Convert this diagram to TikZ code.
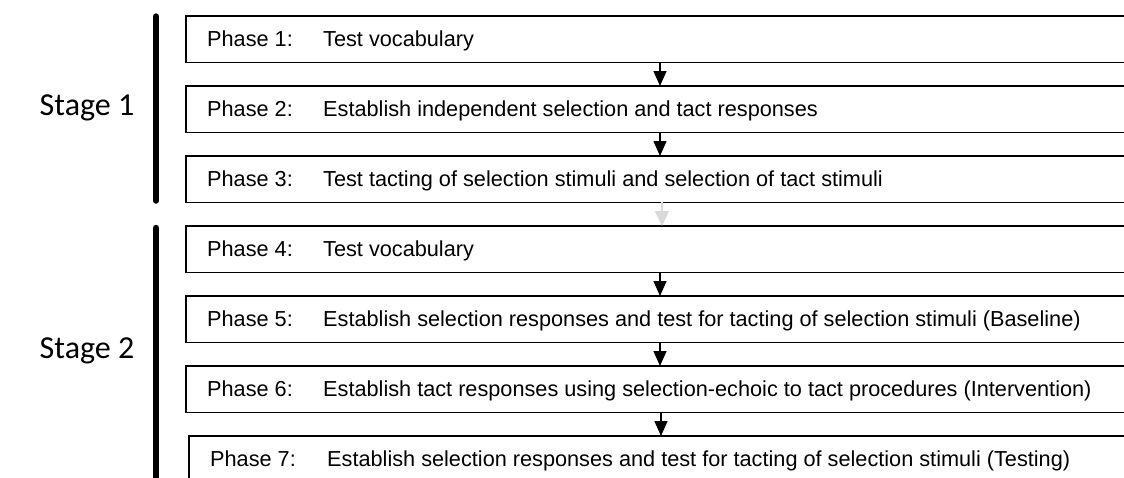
\documentclass[tikz,border=0pt]{standalone}
\usepackage{fontspec}
\setmainfont{Liberation Sans}
\newfontfamily\stagefont{Carlito}
\usetikzlibrary{arrows.meta}
\definecolor{lightarrow}{HTML}{D9D9D9}
\tikzset{
  phasebox/.style={minimum width=938pt, minimum height=46pt, anchor=north west, inner sep=0pt},
  boxline/.style={draw=black, line width=1.4pt},
  phaselabel/.style={anchor=base west, inner sep=0pt, font=\fontsize{21.7}{25}\selectfont},
  stagelabel/.style={inner sep=0pt, font=\stagefont\fontsize{32}{37}\selectfont},
  stagebar/.style={line width=6.5pt, line cap=round, black},
  flow/.style={line width=1.4pt, -{Triangle[width=13pt,length=15pt]}},
  flowgray/.style={line width=1.4pt, draw=lightarrow, -{Triangle[width=14pt,length=15pt]}, lightarrow}
}
\begin{document}
\begin{tikzpicture}[x=1pt,y=-1pt]
\useasboundingbox (0,0) rectangle (1124,477);
\coordinate (edge) at (1124,0);
% boxes (right side runs off the page)
\node[phasebox] (b1) at (186,16) {};
\node[phasebox] (b2) at (186,86) {};
\node[phasebox] (b3) at (186,156) {};
\node[phasebox] (b4) at (186,226) {};
\node[phasebox] (b5) at (186,296) {};
\node[phasebox] (b6) at (186,366) {};
\node[phasebox] (b7) at (189,436) {};
\foreach \b in {b1,b2,b3,b4,b5,b6,b7}
  \draw[boxline] (\b.north west -| edge) -- (\b.north west) -- (\b.south west) -- (\b.south west -| edge);
% texts
\node[phaselabel] (p1) at (207,46.5) {Phase 1:};
\node[phaselabel] (t1) at (323,46.5) {Test vocabulary};
\node[phaselabel] (p2) at (207,116.5) {Phase 2:};
\node[phaselabel] (t2) at (323,116.5) {Establish independent selection and tact responses};
\node[phaselabel] (p3) at (207,186.5) {Phase 3:};
\node[phaselabel] (t3) at (323,186.5) {Test tacting of selection stimuli and selection of tact stimuli};
\node[phaselabel] (p4) at (207,256.5) {Phase 4:};
\node[phaselabel] (t4) at (323,256.5) {Test vocabulary};
\node[phaselabel] (p5) at (207,326.5) {Phase 5:};
\node[phaselabel] (t5) at (323,326.5) {Establish selection responses and test for tacting of selection stimuli (Baseline)};
\node[phaselabel] (p6) at (207,396.5) {Phase 6:};
\node[phaselabel] (t6) at (323,396.5) {Establish tact responses using selection-echoic to tact procedures (Intervention)};
\node[phaselabel] (p7) at (210,466.5) {Phase 7:};
\node[phaselabel] (t7) at (327,466.5) {Establish selection responses and test for tacting of selection stimuli (Testing)};
% arrows
\coordinate (ax) at (660,0);
\coordinate (ax7) at (661,0);
\coordinate (axg) at (662,0);
\draw[flow] (b1.south -| ax) -- (b2.north -| ax);
\draw[flow] (b2.south -| ax) -- (b3.north -| ax);
\draw[flowgray] (b3.south -| axg) -- (b4.north -| axg);
\draw[flow] (b4.south -| ax) -- (b5.north -| ax);
\draw[flow] (b5.south -| ax) -- (b6.north -| ax);
\draw[flow] (b6.south -| ax7) -- (b7.north -| ax7);
% stage bars
\begin{scope}
\clip (0,0) rectangle (1124,477);
\coordinate (s1top) at (156,16.5);
\coordinate (s1bot) at (156,200.5);
\coordinate (s2top) at (156,228);
\coordinate (s2bot) at (156,490);
\draw[stagebar] (s1top) -- (s1bot);
\draw[stagebar] (s2top) -- (s2bot);
\end{scope}
% stage labels
\node[stagelabel] (st1) at (87,108) {Stage 1};
\node[stagelabel] (st2) at (87,351) {Stage 2};
\end{tikzpicture}
\end{document}
